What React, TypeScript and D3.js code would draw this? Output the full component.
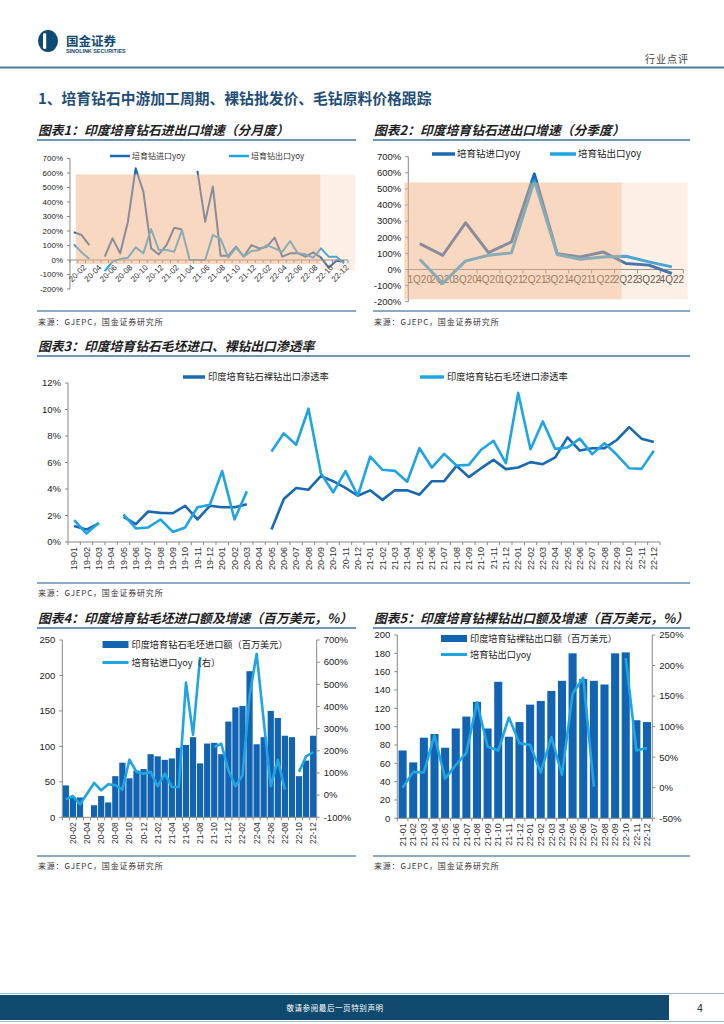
import React from 'react';
import * as d3 from 'd3';

type Num = number | null;

const SANS = "'Liberation Sans', Arial, Helvetica, sans-serif";
const CJK = "'Noto Sans CJK SC', 'Liberation Sans', sans-serif";
const DARK = '#1a69b3';
const LIGHT = '#1fa4e4';
const BAR = '#1264b3';
const NAVY = '#0f4a72';
const RULE = '#3f73a0';
const RULE2 = '#8aaac6';
const PEACH = '#f4b183';
const AXIS = '#888';

function monthLabels(y0: number, y1: number): string[] {
  const out: string[] = [];
  for (let y = y0; y <= y1; y++) for (let m = 1; m <= 12; m++) out.push(`${y}-${String(m).padStart(2, '0')}`);
  return out;
}

// ---------- Chart 1 (monthly yoy, 20-01..22-12)
const c1Months = monthLabels(20, 22);
const c1Import: Num[] = [191, 172, 103, null, 23, 149, 46, 264, 632, 471, 80, 39, 103, 223, 211, null, 614, 264, 506, 30, 30, 92, 23, 103, 80, 92, 154, 23, 46, 46, 23, 53, 16, -53, -5, -7];
const c1Export: Num[] = [108, 53, 7, null, -76, -11, 7, 16, 87, 46, 214, 69, 69, 57, 207, 0, 0, 0, 172, 145, 16, 85, 23, 62, 69, 103, 80, 57, 131, 46, 39, 16, 80, 23, 23, -23];
const c1Ticks = [-200, -100, 0, 100, 200, 300, 400, 500, 600, 700];
const c1Shade = [
  { from: 0.74, to: 32.4, top: 590, bottom: -28, op: 0.5 },
  { from: 32.4, to: 36.9, top: 590, bottom: -69, op: 0.2 },
];

// ---------- Chart 2 (quarterly yoy)
const c2Quarters = ['1Q20', '2Q20', '3Q20', '4Q20', '1Q21', '2Q21', '3Q21', '4Q21', '1Q22', '2Q22', '3Q22', '4Q22'];
const c2Import: Num[] = [160, 88, 290, 105, 171, 593, 97, 78, 109, 37, 27, -25];
const c2Export: Num[] = [64, -86, 53, 88, 103, 551, 93, 64, 78, 82, 47, 16];
const c2Ticks = [-200, -100, 0, 100, 200, 300, 400, 500, 600, 700];
const c2Shade = [
  { from: -0.17, to: 9.31, top: 540, bottom: -185, op: 0.5 },
  { from: 9.31, to: 12.19, top: 540, bottom: -185, op: 0.2 },
];

// ---------- Chart 3 (penetration, 19-01..22-12)
const c3Months = monthLabels(19, 22);
const c3Polished: Num[] = [1.2, 0.94, 1.4, null, 1.9, 1.35, 2.3, 2.2, 2.17, 2.73, 1.7, 2.73, 2.62, 2.62, 2.85, null, 0.94, 3.24, 4.08, 3.95, 4.97, 4.59, 4.08, 3.49, 3.9, 3.18, 3.9, 3.9, 3.57, 4.59, 4.59, 5.75, 4.9, 5.57, 6.2, 5.5, 5.62, 6.03, 5.87, 6.38, 7.9, 6.9, 7.08, 7.08, 7.7, 8.67, 7.8, 7.54];
const c3Rough: Num[] = [1.66, 0.64, 1.45, null, 2.09, 1.02, 1.1, 1.7, 0.76, 1.1, 2.62, 2.8, 5.35, 1.7, 3.82, null, 6.83, 8.2, 7.34, 10.06, 5.2, 3.75, 5.35, 3.49, 6.45, 5.45, 5.37, 4.55, 7.08, 5.62, 6.65, 5.77, 5.82, 6.96, 7.64, 5.95, 11.25, 7.0, 9.1, 7.03, 7.13, 7.8, 6.63, 7.46, 6.58, 5.57, 5.52, 6.88];
const c3Ticks = [0, 2, 4, 6, 8, 10, 12];

// ---------- Chart 4 (rough import value + yoy, 20-01..22-12)
const c4Months = monthLabels(20, 22);
const c4Value: Num[] = [45, 28, 28, null, 17, 30, 21, 58, 77, 55, 66, 68, 89, 86, 81, 83, 98, 102, 113, 76, 104, 105, 89, 135, 155, 157, 206, 103, 113, 150, 140, 115, 113, 58, 80, 115];
const c4Yoy: Num[] = [-19, -4, -42, 6, 55, 22, 49, 45, 25, 160, 105, 97, 105, 40, 97, 37, 37, 508, 272, 623, null, 217, 232, 112, 40, 90, 448, 638, 336, 40, 160, 25, null, 105, 175, 194];
const c4LeftTicks = [0, 50, 100, 150, 200, 250];
const c4RightTicks = [-100, 0, 100, 200, 300, 400, 500, 600, 700];

// ---------- Chart 5 (polished export value + yoy, 21-01..22-12)
const c5Months = monthLabels(21, 22);
const c5Value: Num[] = [74, 61, 88, 92, 77, 98, 111, 127, 98, 149, 89, 105, 124, 128, 139, 150, 180, 152, 150, 146, 180, 181, 107, 105];
const c5Yoy: Num[] = [0, 26, 25, 86, 15, 37, 57, 140, 67, 61, 115, 73, 70, 25, 83, 21, 154, 180, 2, null, null, 212, 61, 65];
const c5LeftTicks = [0, 20, 40, 60, 80, 100, 120, 140, 160, 180, 200];
const c5RightTicks = [-50, 0, 50, 100, 150, 200, 250];

function pathOf(data: Num[], xs: (i: number) => number, ys: (v: number) => number) {
  return d3.line<Num>().defined((d) => d != null).x((_, i) => xs(i)).y((d) => ys(d as number))(data) || '';
}

function Panel(p: { x0: number; x1: number; titleY: number; lineY: number; bottomY: number; sourceY: number; title: string }) {
  return (
    <g>
      <text x={p.x0 + 1} y={p.titleY} fontFamily={CJK} fontSize={12.8} fontWeight={700} fontStyle="italic" fill="#1e1e1e">{p.title}</text>
      <line x1={p.x0} x2={p.x1} y1={p.lineY} y2={p.lineY} stroke={RULE} strokeWidth={1.3} />
      <line x1={p.x0} x2={p.x1} y1={p.bottomY} y2={p.bottomY} stroke={RULE2} strokeWidth={2.2} />
      <text x={p.x0 + 1} y={p.sourceY} fontFamily={CJK} fontSize={8} fill="#333" letterSpacing={0.8}>来源：GJEPC，国金证券研究所</text>
    </g>
  );
}

function Chart1() {
  const left = 70, right = 348;
  const x = d3.scaleBand<string>().domain(c1Months).range([left, right]);
  const bw = x.bandwidth();
  const u = d3.scaleLinear().domain([0, c1Months.length]).range([left, right]);
  const y = d3.scaleLinear().domain([-200, 700]).range([289, 158.5]);
  const cx = (i: number) => (x(c1Months[i]) as number) + bw / 2;
  const y0 = y(0);
  return (
    <g>
      <Panel x0={37} x1={356} titleY={134.5} lineY={140} bottomY={311} sourceY={324.5} title="图表1：印度培育钻石进出口增速（分月度）" />
      {c1Ticks.map((t) => (
        <g key={t}>
          <line x1={left - 3} x2={left} y1={y(t)} y2={y(t)} stroke={AXIS} />
          <text x={left - 7} y={y(t)} dy="0.35em" textAnchor="end" fontFamily={SANS} fontSize={8} fill="#222">{`${t}%`}</text>
        </g>
      ))}
      <line x1={left} x2={left} y1={y(700)} y2={y(-200)} stroke={AXIS} />
      <path d={pathOf(c1Import, cx, y)} fill="none" stroke={DARK} strokeWidth={2} strokeLinejoin="round" />
      <path d={pathOf(c1Export, cx, y)} fill="none" stroke={LIGHT} strokeWidth={2} strokeLinejoin="round" />
      <line x1={left} x2={right} y1={y0} y2={y0} stroke={AXIS} />
      {d3.range(0, c1Months.length + 1).map((k) => (
        <line key={k} x1={u(k)} x2={u(k)} y1={y0} y2={y0 + 3} stroke={AXIS} />
      ))}
      {c1Months.map((m, i) =>
        i % 2 === 1 ? (
          <text key={m} transform={`translate(${cx(i) + 3},${y0 + 6}) rotate(-45)`} dy="0.35em" textAnchor="end" fontFamily={SANS} fontSize={8} fill="#333">{m}</text>
        ) : null
      )}
      {c1Shade.map((s, i) => (
        <rect key={i} x={u(s.from)} y={y(s.top)} width={u(s.to) - u(s.from)} height={y(s.bottom) - y(s.top)} fill={PEACH} opacity={s.op} />
      ))}
      <line x1={110} x2={130} y1={156} y2={156} stroke={DARK} strokeWidth={2.5} />
      <text x={132} y={156} dy="0.35em" fontFamily={CJK} fontSize={8} fill="#333">培育钻进口yoy</text>
      <line x1={229} x2={249} y1={156} y2={156} stroke={LIGHT} strokeWidth={2.5} />
      <text x={251} y={156} dy="0.35em" fontFamily={CJK} fontSize={8} fill="#333">培育钻出口yoy</text>
    </g>
  );
}

function Chart2() {
  const left = 408.3, right = 683.3;
  const x = d3.scaleBand<string>().domain(c2Quarters).range([left, right]);
  const bw = x.bandwidth();
  const u = d3.scaleLinear().domain([0, c2Quarters.length]).range([left, right]);
  const y = d3.scaleLinear().domain([-200, 700]).range([301.7, 156.7]);
  const cx = (i: number) => (x(c2Quarters[i]) as number) + bw / 2;
  const y0 = y(0);
  return (
    <g>
      <Panel x0={373} x1={690} titleY={134.5} lineY={140} bottomY={311} sourceY={324.5} title="图表2：印度培育钻石进出口增速（分季度）" />
      {c2Ticks.map((t) => (
        <g key={t}>
          <line x1={left - 3} x2={left} y1={y(t)} y2={y(t)} stroke={AXIS} />
          <text x={left - 7} y={y(t)} dy="0.35em" textAnchor="end" fontFamily={SANS} fontSize={9.5} fill="#222">{`${t}%`}</text>
        </g>
      ))}
      <line x1={left} x2={left} y1={y(700)} y2={y(-200)} stroke={AXIS} />
      <line x1={left} x2={right} y1={y0} y2={y0} stroke={AXIS} />
      {d3.range(0, c2Quarters.length + 1).map((k) => (
        <line key={k} x1={u(k)} x2={u(k)} y1={y0} y2={y0 + 4} stroke={AXIS} />
      ))}
      {c2Quarters.map((q, i) => (
        <text key={q} x={cx(i)} y={y0 + 14} textAnchor="middle" fontFamily={SANS} fontSize={10} fill="#444">{q}</text>
      ))}
      <path d={pathOf(c2Import, cx, y)} fill="none" stroke={DARK} strokeWidth={3} strokeLinejoin="round" />
      <path d={pathOf(c2Export, cx, y)} fill="none" stroke={LIGHT} strokeWidth={3} strokeLinejoin="round" />
      {c2Shade.map((s, i) => (
        <rect key={i} x={u(s.from)} y={y(s.top)} width={u(s.to) - u(s.from)} height={y(s.bottom) - y(s.top)} fill={PEACH} opacity={s.op} />
      ))}
      <line x1={432} x2={455} y1={154} y2={154} stroke={DARK} strokeWidth={3.5} />
      <text x={457} y={154} dy="0.35em" fontFamily={CJK} fontSize={9.5} fill="#222">培育钻进口yoy</text>
      <line x1={550} x2={576} y1={154} y2={154} stroke={LIGHT} strokeWidth={3.5} />
      <text x={578} y={154} dy="0.35em" fontFamily={CJK} fontSize={9.5} fill="#222">培育钻出口yoy</text>
    </g>
  );
}

function Chart3() {
  const left = 68, right = 660;
  const x = d3.scaleBand<string>().domain(c3Months).range([left, right]);
  const bw = x.bandwidth();
  const u = d3.scaleLinear().domain([0, c3Months.length]).range([left, right]);
  const y = d3.scaleLinear().domain([0, 12]).range([542, 383]);
  const cx = (i: number) => (x(c3Months[i]) as number) + bw / 2;
  const y0 = y(0);
  return (
    <g>
      <Panel x0={37} x1={690} titleY={350.5} lineY={356} bottomY={583} sourceY={595.5} title="图表3：印度培育钻石毛坯进口、裸钻出口渗透率" />
      {c3Ticks.map((t) => (
        <g key={t}>
          <line x1={left - 3} x2={left} y1={y(t)} y2={y(t)} stroke={AXIS} />
          <text x={left - 7} y={y(t)} dy="0.35em" textAnchor="end" fontFamily={SANS} fontSize={9.5} fill="#222">{`${t}%`}</text>
        </g>
      ))}
      <line x1={left} x2={left} y1={y(12)} y2={y0} stroke={AXIS} />
      <line x1={left} x2={right} y1={y0} y2={y0} stroke={AXIS} />
      {d3.range(0, c3Months.length + 1).map((k) => (
        <line key={k} x1={u(k)} x2={u(k)} y1={y0} y2={y0 + 3} stroke={AXIS} />
      ))}
      {c3Months.map((m, i) => (
        <text key={m} transform={`translate(${cx(i)},${y0 + 5}) rotate(-90)`} dy="0.35em" textAnchor="end" fontFamily={SANS} fontSize={9} fill="#333">{m}</text>
      ))}
      <path d={pathOf(c3Polished, cx, y)} fill="none" stroke={DARK} strokeWidth={2.6} strokeLinejoin="round" />
      <path d={pathOf(c3Rough, cx, y)} fill="none" stroke={LIGHT} strokeWidth={2.6} strokeLinejoin="round" />
      <line x1={183} x2={205} y1={377} y2={377} stroke={DARK} strokeWidth={3.5} />
      <text x={208} y={377} dy="0.35em" fontFamily={CJK} fontSize={9.3} fill="#222">印度培育钻石裸钻出口渗透率</text>
      <line x1={420} x2={444} y1={377} y2={377} stroke={LIGHT} strokeWidth={3.5} />
      <text x={447} y={377} dy="0.35em" fontFamily={CJK} fontSize={9.3} fill="#222">印度培育钻石毛坯进口渗透率</text>
    </g>
  );
}

function ComboChart(p: {
  months: string[]; values: Num[]; yoy: Num[]; left: number; right: number; top: number; bottom: number;
  lDomain: [number, number]; rDomain: [number, number]; lTicks: number[]; rTicks: number[];
  pad: number; labelEvery: number; labelOffset: number; labelSize: number;
  legendX: number; legendY1: number; legendY2: number; barLabel: string; lineLabel: string;
}) {
  const x = d3.scaleBand<string>().domain(p.months).range([p.left, p.right]).paddingInner(p.pad).paddingOuter(p.pad / 2);
  const xf = d3.scaleBand<string>().domain(p.months).range([p.left, p.right]);
  const u = d3.scaleLinear().domain([0, p.months.length]).range([p.left, p.right]);
  const yl = d3.scaleLinear().domain(p.lDomain).range([p.bottom, p.top]);
  const yr = d3.scaleLinear().domain(p.rDomain).range([p.bottom, p.top]);
  const cx = (i: number) => (xf(p.months[i]) as number) + xf.bandwidth() / 2;
  return (
    <g>
      {p.values.map((v, i) =>
        v == null ? null : (
          <rect key={i} x={x(p.months[i])} y={yl(v)} width={x.bandwidth()} height={yl(0) - yl(v)} fill={BAR} />
        )
      )}
      <path d={pathOf(p.yoy, cx, yr)} fill="none" stroke={LIGHT} strokeWidth={2.6} strokeLinejoin="round" />
      <line x1={p.left} x2={p.left} y1={p.top} y2={p.bottom} stroke={AXIS} />
      <line x1={p.right} x2={p.right} y1={p.top} y2={p.bottom} stroke={AXIS} />
      <line x1={p.left} x2={p.right} y1={p.bottom} y2={p.bottom} stroke={AXIS} />
      {p.lTicks.map((t) => (
        <g key={t}>
          <line x1={p.left - 3} x2={p.left} y1={yl(t)} y2={yl(t)} stroke={AXIS} />
          <text x={p.left - 7} y={yl(t)} dy="0.35em" textAnchor="end" fontFamily={SANS} fontSize={9.5} fill="#222">{t}</text>
        </g>
      ))}
      {p.rTicks.map((t) => (
        <g key={t}>
          <line x1={p.right} x2={p.right + 3} y1={yr(t)} y2={yr(t)} stroke={AXIS} />
          <text x={p.right + 7} y={yr(t)} dy="0.35em" textAnchor="start" fontFamily={SANS} fontSize={9.5} fill="#222">{`${t}%`}</text>
        </g>
      ))}
      {d3.range(0, p.months.length + 1).map((k) => (
        <line key={k} x1={u(k)} x2={u(k)} y1={p.bottom} y2={p.bottom + 3} stroke={AXIS} />
      ))}
      {p.months.map((m, i) =>
        i % p.labelEvery === p.labelOffset ? (
          <text key={m} transform={`translate(${cx(i)},${p.bottom + 5}) rotate(-90)`} dy="0.35em" textAnchor="end" fontFamily={SANS} fontSize={p.labelSize} fill="#333">{m}</text>
        ) : null
      )}
      <rect x={p.legendX} y={p.legendY1 - 3.5} width={26} height={7} fill={BAR} />
      <text x={p.legendX + 29} y={p.legendY1} dy="0.35em" fontFamily={CJK} fontSize={9.2} fill="#222">{p.barLabel}</text>
      <line x1={p.legendX} x2={p.legendX + 26} y1={p.legendY2} y2={p.legendY2} stroke={LIGHT} strokeWidth={3} />
      <text x={p.legendX + 29} y={p.legendY2} dy="0.35em" fontFamily={CJK} fontSize={9.2} fill="#222">{p.lineLabel}</text>
    </g>
  );
}

function Chart4() {
  return (
    <g>
      <Panel x0={37} x1={356} titleY={622.5} lineY={628} bottomY={856} sourceY={868.5} title="图表4：印度培育钻毛坯进口额及增速（百万美元，%）" />
      <ComboChart months={c4Months} values={c4Value} yoy={c4Yoy} left={62.3} right={316.7} top={640} bottom={817.3}
        lDomain={[0, 250]} rDomain={[-100, 700]} lTicks={c4LeftTicks} rTicks={c4RightTicks} pad={0.12}
        labelEvery={2} labelOffset={1} labelSize={8.5} legendX={102.5} legendY1={644.5} legendY2={662.5}
        barLabel="印度培育钻石毛坯进口额（百万美元）" lineLabel="培育钻进口yoy（右）" />
    </g>
  );
}

function Chart5() {
  return (
    <g>
      <Panel x0={373} x1={690} titleY={622.5} lineY={628} bottomY={856} sourceY={868.5} title="图表5：印度培育钻裸钻出口额及增速（百万美元，%）" />
      <ComboChart months={c5Months} values={c5Value} yoy={c5Yoy} left={397.3} right={652.3} top={635} bottom={818.3}
        lDomain={[0, 200]} rDomain={[-50, 250]} lTicks={c5LeftTicks} rTicks={c5RightTicks} pad={0.24}
        labelEvery={1} labelOffset={0} labelSize={9} legendX={441} legendY1={638.5} legendY2={654.5}
        barLabel="印度培育钻裸钻出口额（百万美元）" lineLabel="培育钻出口yoy" />
    </g>
  );
}

function Header() {
  return (
    <g>
      <ellipse cx={48} cy={41} rx={10} ry={11} fill={NAVY} />
      <rect x={43} y={33} width={3.2} height={16} rx={1.6} fill="#fff" />
      <text x={66} y={45.5} fontFamily={CJK} fontSize={12.5} fontWeight={700} fill={NAVY}>国金证券</text>
      <text x={66} y={52.5} fontFamily={SANS} fontSize={5.4} fontWeight={700} fill={NAVY}>SINOLINK SECURITIES</text>
      <text x={689} y={63} textAnchor="end" fontFamily={CJK} fontSize={10} fill="#444" letterSpacing={1}>行业点评</text>
      <line x1={0} x2={724} y1={67.5} y2={67.5} stroke="#4d7a9c" strokeWidth={2} />
      <text x={38} y={104} fontFamily={CJK} fontSize={14.8} fontWeight={700} fill="#1f4e79">1、培育钻石中游加工周期、裸钻批发价、毛钻原料价格跟踪</text>
    </g>
  );
}

function Footer() {
  return (
    <g>
      <line x1={0} x2={724} y1={993.5} y2={993.5} stroke="#9dbcd3" strokeWidth={1} />
      <rect x={0} y={995} width={669} height={25} fill="#0f4a6e" />
      <line x1={0} x2={724} y1={1021.5} y2={1021.5} stroke="#9dbcd3" strokeWidth={1} />
      <text x={335} y={1010.5} textAnchor="middle" fontFamily={CJK} fontSize={7.5} fill="#fff" letterSpacing={0.6}>敬请参阅最后一页特别声明</text>
      <text x={700} y={1011.5} textAnchor="middle" fontFamily={SANS} fontSize={10.5} fill="#222">4</text>
    </g>
  );
}

export default function App() {
  return (
    <svg width={724} height={1024} viewBox="0 0 724 1024" style={{ position: 'absolute', left: 0, top: 0, background: '#fff' }}>
      <rect width={724} height={1024} fill="#fff" />
      <Header />
      <Chart1 />
      <Chart2 />
      <Chart3 />
      <Chart4 />
      <Chart5 />
      <Footer />
    </svg>
  );
}
